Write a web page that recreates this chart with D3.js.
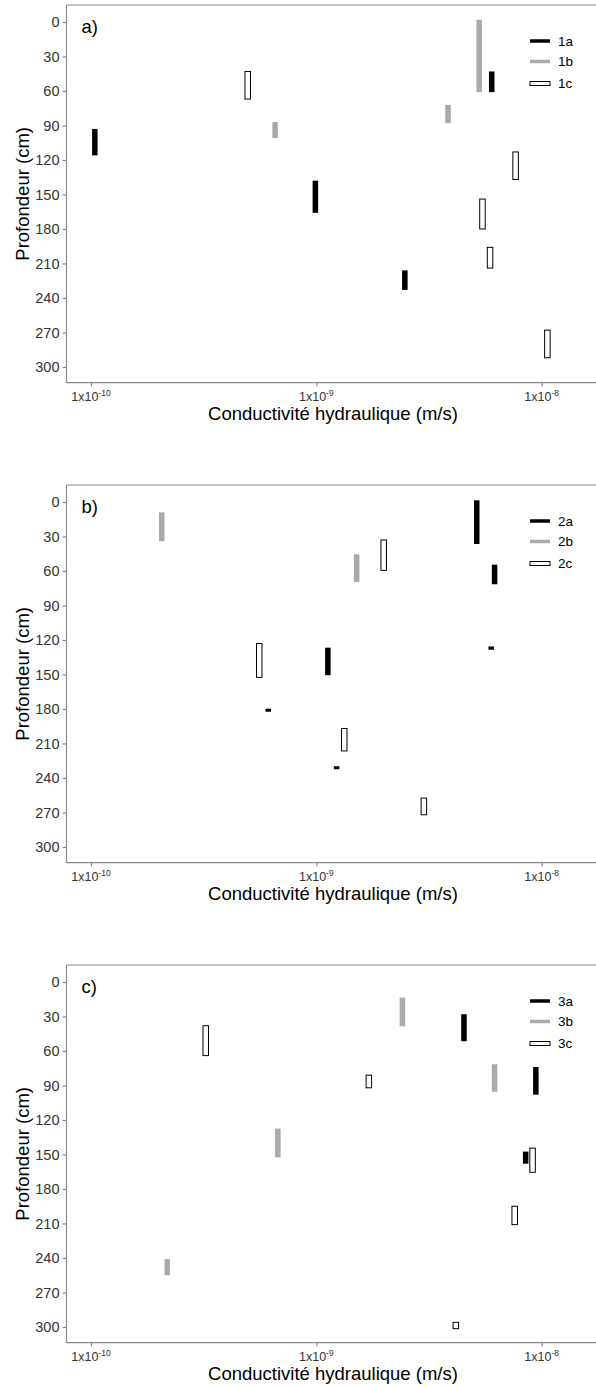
<!DOCTYPE html>
<html><head><meta charset="utf-8">
<script src="https://cdn.jsdelivr.net/npm/d3@7/dist/d3.min.js"></script>
<style>
html,body{margin:0;padding:0;background:#fff;}
svg{display:block;font-family:"Liberation Sans",Arial,sans-serif;}
</style></head>
<body>
<svg id="chart" width="596" height="1387"></svg>
<script>
// ---- data ----
const panelLabels = ["a)", "b)", "c)"];
const seriesNames = [["1a","1b","1c"],["2a","2b","2c"],["3a","3b","3c"]];
const xTickValues = [1e-10, 1e-9, 1e-8];
const xTickExponents = ["-10", "-9", "-8"];
const yTickValues = [0, 30, 60, 90, 120, 150, 180, 210, 240, 270, 300];
const xTitle = "Conductivité hydraulique (m/s)";
const yTitle = "Profondeur (cm)";

// each entry: [K (m/s), depth top (cm), depth bottom (cm)]
const s1a = [[1.04e-10, 93, 116], [0.99e-9, 138, 166], [2.47e-9, 216, 233], [6.0e-9, 43, 61]];
const s1b = [[5.28e-9, -2, 61], [3.84e-9, 72, 88], [6.56e-10, 87, 101]];
const s1c = [[4.96e-10, 43, 67], [7.66e-9, 113, 137], [5.46e-9, 154, 180], [5.9e-9, 196, 214], [1.06e-8, 268, 292]];

const s2a = [[5.15e-9, -1.5, 36.5], [6.18e-9, 54.5, 71.5], [5.97e-9, 125.6, 128.5], [1.125e-9, 126.7, 150.6], [6.12e-10, 179.8, 182.4], [1.23e-9, 229.8, 232.4]];
const s2b = [[2.06e-10, 9, 34], [1.51e-9, 45.5, 69.5]];
const s2c = [[1.99e-9, 33, 59.5], [5.58e-10, 123, 152.5], [1.33e-9, 197, 216.5], [3.0e-9, 257.5, 272]];

const s3a = [[4.52e-9, 28, 51.5], [9.42e-9, 74, 98], [8.49e-9, 147.5, 158]];
const s3b = [[2.41e-9, 13.5, 38.5], [6.18e-9, 71.5, 95.5], [6.75e-10, 127.5, 152.5], [2.18e-10, 241, 255]];
const s3c = [[3.23e-10, 38, 64], [1.71e-9, 81, 92], [9.11e-9, 144.5, 165.5], [7.59e-9, 195, 211], [4.16e-9, 296, 301.5]];

const panelData = [[s1a, s1b, s1c], [s2a, s2b, s2c], [s3a, s3b, s3c]];

// ---- layout ----
const panelOffset = 480;
const L = 66.5, R = 596, T = 5, B = 382.7;
const svg = d3.select("#chart");

const x = d3.scaleLog().domain([Math.pow(10, -10.1087), Math.pow(10, -7.759)]).range([L, R]);
const y = d3.scaleLinear().domain([-14.8, 313.7]).range([T, B]);

const styles = [
  {fill: "#000000", stroke: "none", w: 5.5},
  {fill: "#aaaaaa", stroke: "none", w: 5.5},
  {fill: "#ffffff", stroke: "#000000", w: 5.5}
];
const axisColor = "#8a8a8a";
const tickTextColor = "#333333";

panelData.forEach((series, pi) => {
  const g = svg.append("g").attr("transform", `translate(0,${pi * panelOffset})`);

  // panel frame (left, top, bottom)
  g.append("line").attr("x1", L).attr("x2", R).attr("y1", T).attr("y2", T).attr("stroke", axisColor).attr("stroke-width", 1.2);
  g.append("line").attr("x1", L).attr("x2", R).attr("y1", B).attr("y2", B).attr("stroke", axisColor).attr("stroke-width", 1.2);
  g.append("line").attr("x1", L).attr("x2", L).attr("y1", T).attr("y2", B).attr("stroke", axisColor).attr("stroke-width", 1.2);

  // y axis
  const yAxis = d3.axisLeft(y).tickValues(yTickValues).tickSize(4).tickPadding(3);
  const ya = g.append("g").attr("transform", `translate(${L},0)`).call(yAxis);
  ya.select(".domain").remove();
  ya.selectAll(".tick line").attr("stroke", axisColor).attr("stroke-width", 1.2);
  ya.selectAll(".tick text").attr("fill", tickTextColor).attr("font-size", 14.5)
    .attr("font-family", "Liberation Sans, Arial, sans-serif");

  // x axis
  const xAxis = d3.axisBottom(x).tickValues(xTickValues).tickSize(3.5).tickFormat("");
  const xa = g.append("g").attr("transform", `translate(0,${B})`).call(xAxis);
  xa.select(".domain").remove();
  xa.selectAll(".tick line").attr("stroke", axisColor).attr("stroke-width", 1.2);
  xTickValues.forEach((v, i) => {
    const t = g.append("text").attr("x", x(v)).attr("y", B + 18.5)
      .attr("text-anchor", "middle").attr("fill", tickTextColor)
      .attr("font-size", 12.5);
    t.append("tspan").text("1x10");
    t.append("tspan").attr("dy", -5).attr("font-size", 8.5).text(xTickExponents[i]);
  });

  // axis titles
  g.append("text").attr("x", 333).attr("y", B + 37.5).attr("text-anchor", "middle")
    .attr("font-size", 18.5).attr("fill", "#000").text(xTitle);
  g.append("text").attr("transform", `translate(28.5,${(T + B) / 2}) rotate(-90)`)
    .attr("text-anchor", "middle").attr("font-size", 18.5).attr("fill", "#000").text(yTitle);

  // panel label
  g.append("text").attr("x", 81.5).attr("y", 32.5).attr("font-size", 18.5).attr("fill", "#000").text(panelLabels[pi]);

  // marks
  series.forEach((arr, si) => {
    const st = styles[si];
    g.append("g").selectAll("rect").data(arr).join("rect")
      .attr("x", d => x(d[0]) - st.w / 2)
      .attr("y", d => y(d[1]))
      .attr("width", st.w)
      .attr("height", d => y(d[2]) - y(d[1]))
      .attr("fill", st.fill)
      .attr("stroke", st.stroke)
      .attr("stroke-width", st.stroke === "none" ? 0 : 1);
  });

  // legend
  const legY = [41, 61.5, 83.5];
  seriesNames[pi].forEach((name, si) => {
    if (si < 2) {
      g.append("line").attr("x1", 530).attr("x2", 550).attr("y1", legY[si]).attr("y2", legY[si])
        .attr("stroke", styles[si].fill).attr("stroke-width", 3.5);
    } else {
      g.append("rect").attr("x", 530).attr("y", legY[si] - 2).attr("width", 20).attr("height", 4)
        .attr("fill", "#fff").attr("stroke", "#000").attr("stroke-width", 1);
    }
    g.append("text").attr("x", 558).attr("y", legY[si] + 4.7).attr("font-size", 13.5)
      .attr("fill", "#000").text(name);
  });
});
</script>
</body></html>
